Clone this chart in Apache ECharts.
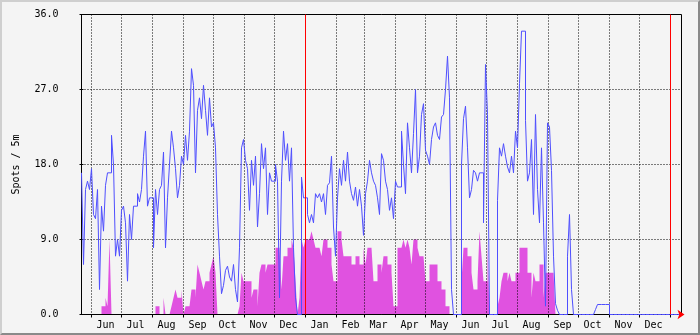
<!DOCTYPE html>
<html>
<head>
<meta charset="utf-8">
<script src="https://cdn.jsdelivr.net/npm/echarts@6/dist/echarts.min.js"></script>
<style>
  html, body { margin: 0; padding: 0; background: #f4f4f4; }
  #wrap { position: relative; width: 700px; height: 335px; }
  #chart { width: 700px; height: 335px; }
  #frame { position: absolute; left: 0; top: 0; width: 700px; height: 335px; box-sizing: border-box;
    border-top: 2px solid #cfcfcf; border-left: 2px solid #cfcfcf;
    border-bottom: 2px solid #8a8a8a; border-right: 2px solid #8a8a8a; pointer-events: none; }
</style>
</head>
<body>
<div id="wrap"><div id="chart"></div><div id="frame"></div></div>
<script>
// ---- data (x = days since start of graph, 2-day buckets) ----
const DAY_STEP = 2;
const TOTAL_DAYS = 600;
// month boundaries (days from graph start) and the month each one opens
const monthStarts = [10, 40, 71, 102, 132, 163, 193, 224, 255, 283, 314, 344, 375, 405, 436, 467, 497, 528, 558, 589];
const monthNames  = ['Jun','Jul','Aug','Sep','Oct','Nov','Dec','Jan','Feb','Mar','Apr','May','Jun','Jul','Aug','Sep','Oct','Nov','Dec','Jan'];
const yearStarts = [224, 589];
const yTicks = [0, 9, 18, 27, 36];

const spotsLine = [
  17,6,15,16,15,17.5,12,11.5,15,3, 13,10,15.5,17,17,21.5,18,7,9,7,
  12.5,13,11,4,12,9,13,13,14.5,13.5, 15,19,22,13,14,14,8,15,12,15,
  15.5,19.5,8,14,18,22,20,17.5,14,15.5,
  19,18,21.5,18.5,22,29.5,27.5,17,24.5,26, 23.5,27.5,24.5,21.5,26,22.5,23,20,12,7,
  2.5,3.5,5.3,5.8,4.5,4,6,3,1.5,8, 20,21,18.5,17.5,12.5,18.5,15.5,19,10.5,14.5,
  20.5,17.5,20,12,17,16,16,18,16,2,
  16,22,18.5,20.5,16,20,8,2,0,0, 16.5,14,14,12,11,12,11,14.5,14,14.5,
  13.5,14.5,12,15.5,15.8,19,10.5,7,14,17.5, 15.5,18.5,16,19.5,16,14.5,13.7,15.3,13,15,
  13,9.5,14.5,16,18.5,17,16,15.5,14,12,
  19.3,18.5,16,15,12.5,14,11.5,16,15.3,15.3, 22,18,14.5,23,20,17,21.7,27,17,19,
  24,25.3,19.7,19,18,21,22.5,23,21.5,21, 23.7,24,27,31,26,3,0,0,0,0,
  18,23.5,25,20,14,15,17.3,17,16,17,
  17,11,30,24,0,0,0,0,13.7,20, 19,20.5,19,17.7,17,19,17,22,20,27.7,
  34,34,23.3,16,17,21,12,24,15,11, 20,11,1,23,22.5,17.3,7,1.3,0.5,0,
  0,0,0,7,12,3,0,0,0,0,
  0,0,0,0,0,0,0,0.6,1.2,1.2, 1.2,1.2,1.2,1.2,0,0,0,0,0,0,
  0,0,0,0,0,0,0,0,0,0, 0,0,0,0,0,0,0,0,0,0, 0,0,0,0,0,0,0,0,0,0
];
const spotsArea = [
  0,0,0,0,0,0,0,0,0,0, 1,1,2,1,9,0,0,0,0,0,
  0,0,0,0,0,0,0,0,0,0, 0,0,0,0,0,0,0,1,1,0,
  0,2,0,0,0,1,2,3,2,2,
  3,0,1,1,1,3,3,2,6,5, 4,3,4,4,5,6,7,5,0,0,
  0,0,0,0,0,0,0,0,0,1, 5,4,4,4,4,2,3,3,1,5,
  6,6,5,6,6,6,6,8,8,8,
  3,7,7,8,8,9,8,4,0,2, 9,8,9,9,9,10,9,8,8,8,
  7,9,9,8,8,6,4,4,10,10, 9,7,7,7,7,6,6,7,7,6,
  6,8,6,8,8,8,4,4,6,6,
  5,7,7,6,6,5,1,1,8,8, 8,9,8,9,8,6,9,9,8,7,
  7,7,4,4,6,6,6,6,4,4, 3,3,1,1,0,0,0,0,0,0,
  4,8,8,7,7,5,3,3,4,10,
  7,4,4,9,0,0,0,0,1,2, 4,5,5,4,5,4,4,5,5,8,
  8,8,8,5,5,2,5,4,4,6, 6,2,5,5,5,5,5,0,0,0,
  0,0,0,0,0,0,0,0,0,0,
  0,0,0,0,0,0,0,0,0,0, 0,0,0,0,0,0,0,0,0,0,
  0,0,0,0,0,0,0,0,0,0, 0,0,0,0,0,0,0,0,0,0, 0,0,0,0,0,0,0,0,0,0
];

// ---- build ----
function toPoints(arr) {
  const pts = arr.map((v, i) => [i * DAY_STEP, v]);
  pts.push([TOTAL_DAYS, arr[arr.length - 1]]);
  return pts;
}
const labelPos = monthStarts.slice(0, 19).map(d => d + 14);
const labelText = {};
labelPos.forEach((p, i) => { labelText[p] = monthNames[i]; });

const FONT = 'DejaVu Sans Mono';
const chart = echarts.init(document.getElementById('chart'), null, { renderer: 'canvas' });
chart.setOption({
  backgroundColor: '#f4f4f4',
  animation: false,
  grid: { left: 81.5, right: 18.5, top: 14.5, bottom: 20.5, show: true, borderColor: '#000', borderWidth: 1, backgroundColor: 'transparent' },
  xAxis: [{
    type: 'value', min: 0, max: TOTAL_DAYS, z: 4,
    axisLine: { show: true, onZero: false, lineStyle: { color: '#000', width: 1 } },
    axisTick: { show: true, inside: false, length: 3, customValues: monthStarts, lineStyle: { color: '#000' } },
    axisLabel: { show: true, customValues: labelPos, margin: 6, color: '#000', fontFamily: FONT, fontSize: 10,
      formatter: v => labelText[v] || '' },
    splitLine: { show: true, lineStyle: { color: '#000', type: [1, 2], width: 1 } }
  }, {
    type: 'value', min: 0, max: TOTAL_DAYS, position: 'bottom', z: 7,
    axisLine: { show: true, onZero: false, symbol: ['none', 'arrow'], symbolSize: [7, 7], symbolOffset: [0, 3],
      lineStyle: { color: '#ff0000', width: 0 } },
    axisTick: { show: false }, axisLabel: { show: false }, splitLine: { show: false }
  }],
  yAxis: [{
    type: 'value', min: 0, max: 36, interval: 9, z: 4,
    name: 'Spots / 5m', nameLocation: 'middle', nameGap: 60, nameRotate: 90,
    nameTextStyle: { color: '#000', fontFamily: FONT, fontSize: 10 },
    axisLine: { show: true, lineStyle: { color: '#000' } },
    axisTick: { show: true, length: 2, lineStyle: { color: '#000' } },
    axisLabel: { margin: 23, color: '#000', fontFamily: FONT, fontSize: 10, formatter: v => v.toFixed(1) },
    splitLine: { show: true, lineStyle: { color: '#000', type: [1, 2], width: 1 } }
  }, {
    type: 'value', min: 0, max: 36, interval: 9, position: 'right', z: 4,
    axisLine: { show: true, lineStyle: { color: '#000' } },
    axisTick: { show: true, length: 2, lineStyle: { color: '#000' } },
    axisLabel: { show: false }, splitLine: { show: false }
  }],
  series: [{
    name: 'area', type: 'line', step: 'end', data: toPoints(spotsArea),
    symbol: 'none', lineStyle: { width: 0 }, areaStyle: { color: '#e052e0', opacity: 1 },
    itemStyle: { color: '#e052e0' }, z: 1
  }, {
    name: 'line', type: 'line', step: 'end', data: toPoints(spotsLine),
    symbol: 'none', lineStyle: { width: 1, color: '#4f4fff' }, itemStyle: { color: '#4f4fff' }, z: 5,
    markLine: {
      silent: true, symbol: 'none', label: { show: false }, z: 6,
      lineStyle: { color: '#ff0000', type: 'solid', width: 1 },
      data: yearStarts.map(d => ({ xAxis: d }))
    }
  }]
});
</script>
</body>
</html>
